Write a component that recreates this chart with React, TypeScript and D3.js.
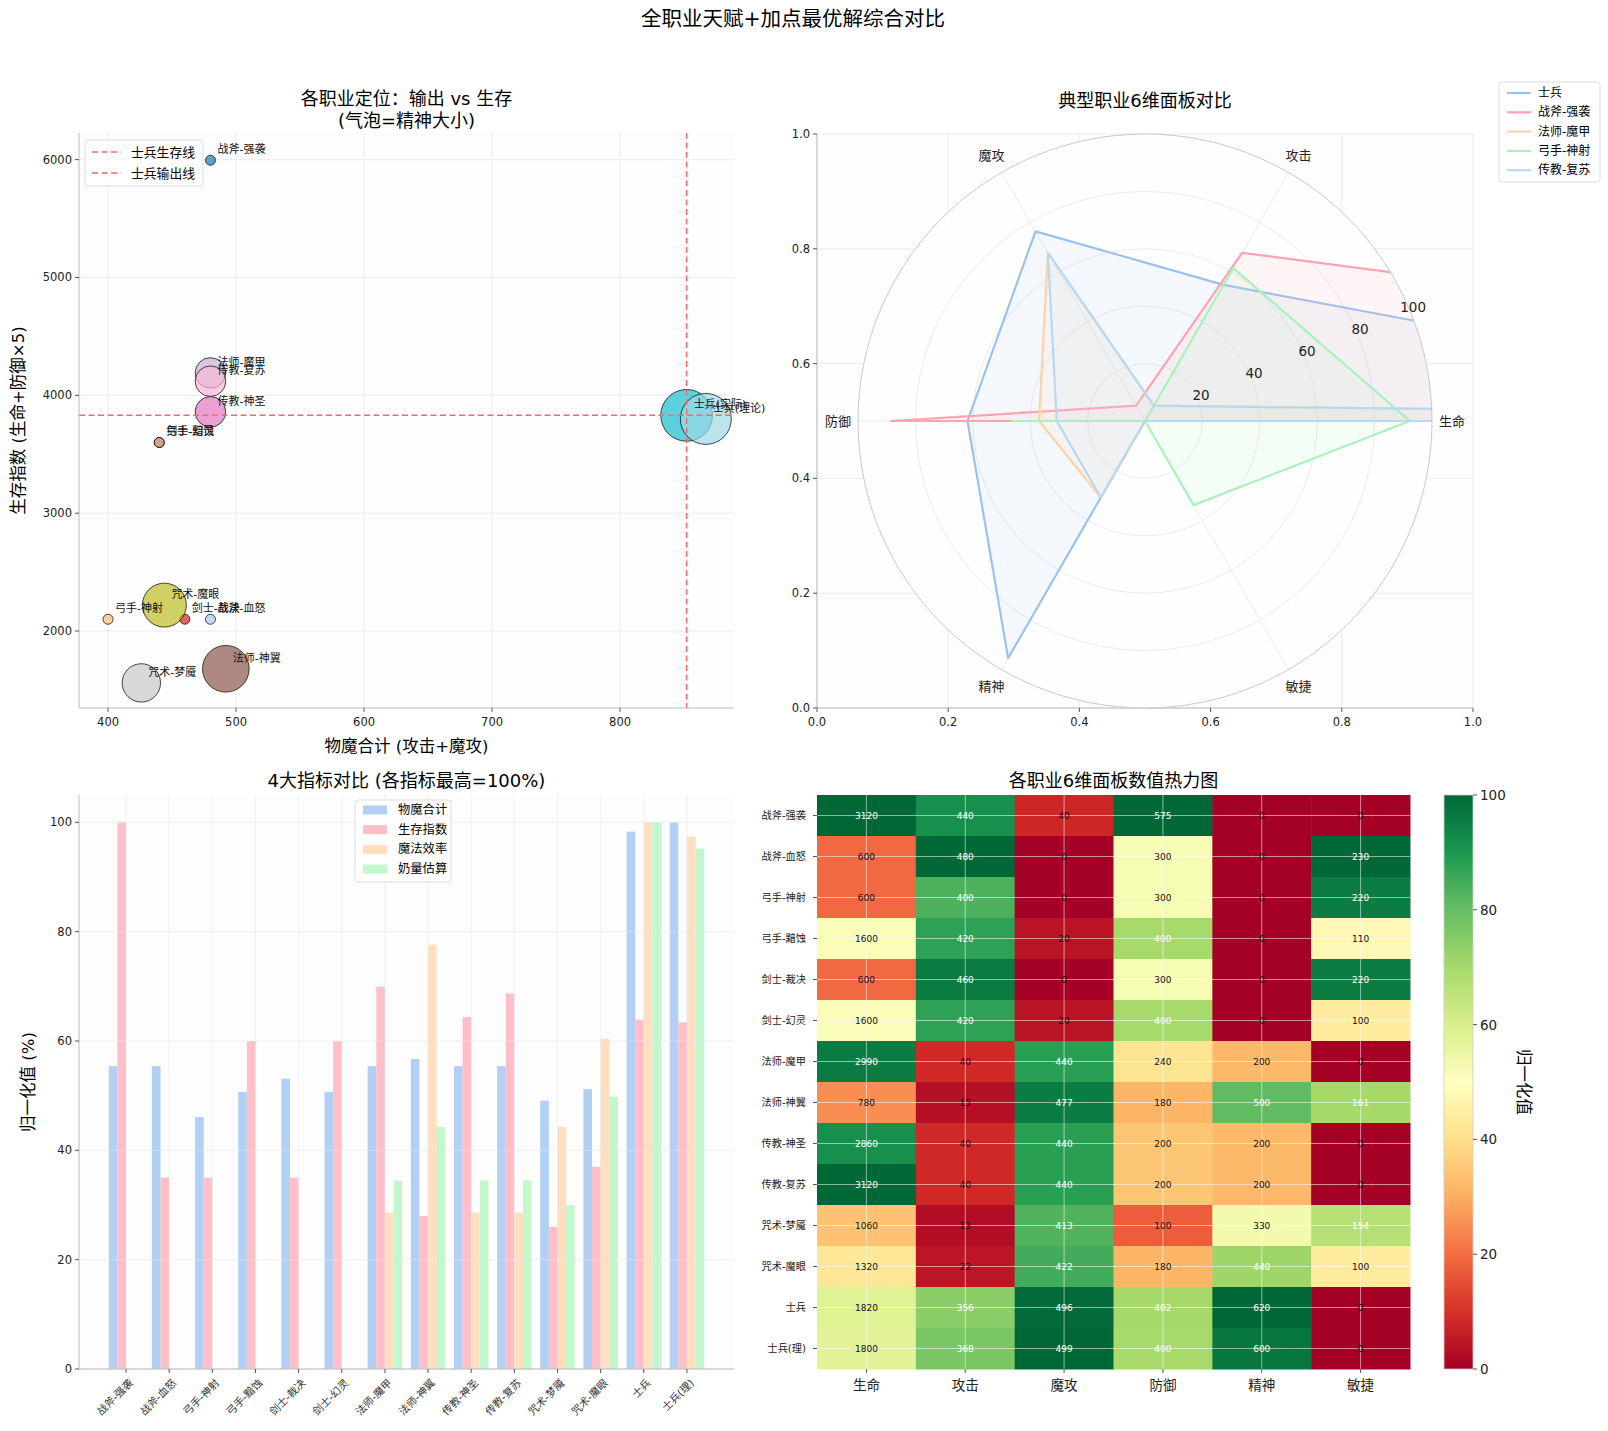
import * as d3 from "d3";

const FONT = "'DejaVu Sans', 'Noto Sans CJK SC', sans-serif";

// ---- data ----
const classes = [
  "战斧-强袭", "战斧-血怒", "弓手-神射", "弓手-黯蚀", "剑士-裁决", "剑士-幻灵", "法师-魔甲",
  "法师-神翼", "传教-神圣", "传教-复苏", "咒术-梦魇", "咒术-魔眼", "士兵", "士兵(理)",
];
const scatterNames = [
  "战斧-强袭", "战斧-血怒", "弓手-神射", "弓手-黯蚀", "剑士-裁决", "剑士-幻灵", "法师-魔甲",
  "法师-神翼", "传教-神圣", "传教-复苏", "咒术-梦魇", "咒术-魔眼", "士兵(实际)", "士兵(理论)",
];
const dims = ["生命", "攻击", "魔攻", "防御", "精神", "敏捷"];

const hp = [3120, 600, 600, 1600, 600, 1600, 2990, 780, 2860, 3120, 1060, 1320, 1820, 1800];
const atk = [440, 480, 400, 420, 460, 420, 40, 15, 40, 40, 13, 22, 356, 368];
const matk = [40, 0, 0, 20, 0, 20, 440, 477, 440, 440, 413, 422, 496, 499];
const def = [575, 300, 300, 400, 300, 400, 240, 180, 200, 200, 100, 180, 402, 400];
const spirit = [0, 0, 0, 0, 0, 0, 200, 500, 200, 200, 330, 440, 620, 600];
const agi = [0, 230, 220, 110, 220, 100, 0, 161, 0, 0, 154, 100, 0, 0];

const barPhysMag = [55.4, 55.4, 46.1, 50.7, 53.1, 50.7, 55.4, 56.7, 55.4, 55.4, 49.1, 51.2, 98.3, 100];
const barSurvive = [100, 35, 35, 60, 35, 60, 69.9, 28, 64.4, 68.7, 26, 37, 63.9, 63.4];
const barMagicEff = [0, 0, 0, 0, 0, 0, 28.6, 77.6, 28.6, 28.6, 44.3, 60.4, 100, 97.4];
const barHeal = [0, 0, 0, 0, 0, 0, 34.5, 44.3, 34.5, 34.5, 30, 49.8, 100, 95.2];
const barSeries = ["物魔合计", "生存指数", "魔法效率", "奶量估算"];

const radarNames = ["士兵", "战斧-强袭", "法师-魔甲", "弓手-神射", "传教-复苏"];
const radarRef = 650; // radar scale: value / 650 * 100

const bubbleColors = [
  "#1f77b4", "#aec7e8", "#ffbb78", "#2ca02c", "#d62728", "#ff9896", "#c5b0d5",
  "#8c564b", "#e377c2", "#f7b6d2", "#c7c7c7", "#bcbd22", "#17becf", "#9edae5",
];
const radarColors = ["#9cc2ee", "#ffa3b1", "#ffd3a6", "#a7f3ba", "#b7d9f3"];
const barColors = ["#b1d0f4", "#ffbfc8", "#ffdfc0", "#c3f7cc"];
const rdylgn = ["#a50026", "#d73027", "#f46d43", "#fdae61", "#fee08b", "#ffffbf", "#d9ef8b", "#a6d96a", "#66bd63", "#1a9850", "#006837"];

const rowOf = (i: number) => [hp[i], atk[i], matk[i], def[i], spirit[i], agi[i]];
const AX = "#bbbbbb";
const TICK = "#555";
const GRID = "#ececec";
const FACE = "#fdfdfd";
const TITLE = 18;
const LABEL = 16.5;

function Scatter() {
  const L = 79, R = 734, T = 133, B = 708;
  const x = d3.scaleLinear().domain([377.3, 889]).range([L, R]);
  const y = d3.scaleLinear().domain([1347, 6226]).range([B, T]);
  const px = classes.map((_, i) => atk[i] + matk[i]);
  const py = classes.map((_, i) => hp[i] + def[i] * 5);
  const r = d3.scaleSqrt().domain([0, 620]).range([0, 25.4]);
  const rad = (v: number) => Math.sqrt(25 + r(v) ** 2);
  const sIdx = classes.indexOf("士兵");
  const hLine = py[sIdx];
  const vLine = px[sIdx];
  const red = "#f46a6a";
  return (
    <g>
      <rect x={L} y={T} width={R - L} height={B - T} fill={FACE} />
      {x.ticks(5).map((t) => (
        <line key={"gx" + t} x1={x(t)} x2={x(t)} y1={T} y2={B} stroke={GRID} />
      ))}
      {y.ticks(5).map((t) => (
        <line key={"gy" + t} x1={L} x2={R} y1={y(t)} y2={y(t)} stroke={GRID} />
      ))}
      {classes.map((c, i) => (
        <circle key={c} cx={x(px[i])} cy={y(py[i])} r={rad(spirit[i])} fill={bubbleColors[i]}
          fillOpacity={0.7} stroke="#000" strokeOpacity={0.7} strokeWidth={1} />
      ))}
      <line x1={L} x2={R} y1={y(hLine)} y2={y(hLine)} stroke={red} strokeWidth={1.5} strokeDasharray="6,3.5" />
      <line x1={x(vLine)} x2={x(vLine)} y1={T} y2={B} stroke={red} strokeWidth={1.5} strokeDasharray="6,3.5" />
      {classes.map((c, i) => (
        <text key={"l" + c} x={x(px[i]) + 7} y={y(py[i]) - 7} fontSize={11} fill="#111">{scatterNames[i]}</text>
      ))}
      <line x1={L} x2={L} y1={T} y2={B} stroke={AX} />
      <line x1={L} x2={R} y1={B} y2={B} stroke={AX} />
      {x.ticks(5).map((t) => (
        <g key={"tx" + t}>
          <line x1={x(t)} x2={x(t)} y1={B} y2={B + 4} stroke={TICK} />
          <text x={x(t)} y={B + 18} fontSize={11.5} textAnchor="middle" fill="#222">{t}</text>
        </g>
      ))}
      {y.ticks(5).map((t) => (
        <g key={"ty" + t}>
          <line x1={L - 4} x2={L} y1={y(t)} y2={y(t)} stroke={TICK} />
          <text x={L - 7} y={y(t)} fontSize={11.5} textAnchor="end" dominantBaseline="central" fill="#222">{t}</text>
        </g>
      ))}
      <text x={(L + R) / 2} y={98} fontSize={TITLE} textAnchor="middle" dominantBaseline="central">各职业定位：输出 vs 生存</text>
      <text x={(L + R) / 2} y={120} fontSize={TITLE} textAnchor="middle" dominantBaseline="central">(气泡=精神大小)</text>
      <text x={(L + R) / 2} y={746} fontSize={LABEL} textAnchor="middle" dominantBaseline="central">物魔合计 (攻击+魔攻)</text>
      <text transform={`translate(18,${(T + B) / 2}) rotate(-90)`} fontSize={LABEL} textAnchor="middle" dominantBaseline="central">生存指数 (生命+防御×5)</text>
      <g>
        <rect x={85} y={140} width={118} height={46} rx={3} fill="#fff" fillOpacity={0.8} stroke="#ddd" />
        {["士兵生存线", "士兵输出线"].map((s, k) => (
          <g key={s}>
            <line x1={92} x2={121} y1={152 + k * 21} y2={152 + k * 21} stroke={red} strokeWidth={1.5} strokeDasharray="6,3.5" />
            <text x={131} y={152 + k * 21} fontSize={12.8} dominantBaseline="central">{s}</text>
          </g>
        ))}
      </g>
    </g>
  );
}

function Radar() {
  const L = 817, R = 1473, T = 134, B = 708;
  const cx = d3.scaleLinear().domain([0, 1]).range([L, R]);
  const cy = d3.scaleLinear().domain([0, 1]).range([B, T]);
  const ctrX = (L + R) / 2, ctrY = (T + B) / 2;
  const rr = d3.scaleLinear().domain([0, 100]).range([0, 287]);
  const angles = dims.map((_, k) => (k * 2 * Math.PI) / dims.length);
  const line = d3
    .lineRadial<number>()
    .angle((_, k) => Math.PI / 2 - angles[k])
    .radius((v) => rr((v / radarRef) * 100))
    .curve(d3.curveLinearClosed);
  const ticks = [0, 0.2, 0.4, 0.6, 0.8, 1.0];
  const lab = (a: number, r: number) => [ctrX + r * Math.cos(a), ctrY - r * Math.sin(a)];
  const rlA = (22.5 * Math.PI) / 180;
  return (
    <g>
      <rect x={L} y={T} width={R - L} height={B - T} fill={FACE} />
      {ticks.map((t) => (
        <g key={"g" + t}>
          <line x1={cx(t)} x2={cx(t)} y1={T} y2={B} stroke={GRID} />
          <line x1={L} x2={R} y1={cy(t)} y2={cy(t)} stroke={GRID} />
        </g>
      ))}
      <line x1={L} x2={L} y1={T} y2={B} stroke={AX} />
      <line x1={L} x2={R} y1={B} y2={B} stroke={AX} />
      {ticks.map((t) => (
        <g key={"t" + t}>
          <line x1={cx(t)} x2={cx(t)} y1={B} y2={B + 4} stroke={TICK} />
          <text x={cx(t)} y={B + 18} fontSize={11.5} textAnchor="middle" fill="#222">{t.toFixed(1)}</text>
          <line x1={L - 4} x2={L} y1={cy(t)} y2={cy(t)} stroke={TICK} />
          <text x={L - 7} y={cy(t)} fontSize={11.5} textAnchor="end" dominantBaseline="central" fill="#222">{t.toFixed(1)}</text>
        </g>
      ))}
      <defs>
        <clipPath id="polarClip">
          <circle cx={ctrX} cy={ctrY} r={rr(100)} />
        </clipPath>
      </defs>
      <circle cx={ctrX} cy={ctrY} r={rr(100)} fill="#fefefe" />
      {[20, 40, 60, 80].map((v) => (
        <circle key={"c" + v} cx={ctrX} cy={ctrY} r={rr(v)} fill="none" stroke="#ebebeb" />
      ))}
      {angles.map((a, k) => {
        const [x2, y2] = lab(a, rr(100));
        return <line key={"a" + k} x1={ctrX} y1={ctrY} x2={x2} y2={y2} stroke="#ebebeb" />;
      })}
      <g clipPath="url(#polarClip)">
        <g transform={`translate(${ctrX},${ctrY})`}>
          {radarNames.map((n, s) => {
            const vals = rowOf(classes.indexOf(n));
            return (
              <g key={n}>
                <path d={line(vals) ?? ""} fill="none" stroke={radarColors[s]} strokeWidth={2.2} strokeLinejoin="round" />
                <path d={line(vals) ?? ""} fill={radarColors[s]} fillOpacity={0.1} stroke="none" />
              </g>
            );
          })}
        </g>
      </g>
      <circle cx={ctrX} cy={ctrY} r={rr(100)} fill="none" stroke="#c9c9c9" strokeWidth={1} />
      {[20, 40, 60, 80, 100].map((v) => {
        const [x, y] = lab(rlA, rr(v));
        return (
          <text key={"rl" + v} x={x + 3} y={y - 4} fontSize={13.5} textAnchor="middle" dominantBaseline="central" fill="#222">{v}</text>
        );
      })}
      {dims.map((d, k) => {
        const [x, y] = lab(angles[k], 307);
        return (
          <text key={"d" + d} x={x} y={y} fontSize={13} textAnchor="middle" dominantBaseline="central" fill="#222">{d}</text>
        );
      })}
      <text x={ctrX} y={100} fontSize={TITLE} textAnchor="middle" dominantBaseline="central">典型职业6维面板对比</text>
      <g>
        <rect x={1499} y={82} width={101} height={100} rx={3} fill="#fff" stroke="#ddd" />
        {radarNames.map((n, s) => (
          <g key={"lg" + n}>
            <line x1={1507} x2={1531} y1={93 + s * 19.3} y2={93 + s * 19.3} stroke={radarColors[s]} strokeWidth={2.2} />
            <text x={1538} y={93 + s * 19.3} fontSize={12} dominantBaseline="central">{n}</text>
          </g>
        ))}
      </g>
    </g>
  );
}

function Bars() {
  const L = 79, R = 734, T = 795, B = 1369;
  const x = d3.scaleLinear().domain([-1.09, 14.09]).range([L, R]);
  const y = d3.scaleLinear().domain([0, 105]).range([B, T]);
  const series = [barPhysMag, barSurvive, barMagicEff, barHeal];
  const w = 0.2;
  return (
    <g>
      <rect x={L} y={T} width={R - L} height={B - T} fill={FACE} />
      {series.map((vals, s) =>
        vals.map((v, i) => (
          <rect key={s + "-" + i} x={x(i + (s - 2) * w)} width={x(w) - x(0)} y={y(v)} height={B - y(v)} fill={barColors[s]} />
        ))
      )}
      {y.ticks(5).map((t) => (
        <line key={"gy" + t} x1={L} x2={R} y1={y(t)} y2={y(t)} stroke="#e6e6e6" strokeOpacity={0.6} />
      ))}
      {classes.map((_, i) => (
        <line key={"gx" + i} x1={x(i)} x2={x(i)} y1={T} y2={B} stroke="#e6e6e6" strokeOpacity={0.5} />
      ))}
      <line x1={L} x2={L} y1={T} y2={B} stroke={AX} />
      <line x1={L} x2={R} y1={B} y2={B} stroke={AX} />
      {y.ticks(5).map((t) => (
        <g key={"ty" + t}>
          <line x1={L - 4} x2={L} y1={y(t)} y2={y(t)} stroke={TICK} />
          <text x={L - 7} y={y(t)} fontSize={11.5} textAnchor="end" dominantBaseline="central" fill="#222">{t}</text>
        </g>
      ))}
      {classes.map((c, i) => (
        <g key={"tx" + c}>
          <line x1={x(i)} x2={x(i)} y1={B} y2={B + 4} stroke={TICK} />
          <text transform={`translate(${x(i) + 2},${B + 9}) rotate(-45)`} fontSize={10.5} textAnchor="end" dominantBaseline="hanging" fill="#333">{c}</text>
        </g>
      ))}
      <text x={(L + R) / 2} y={780} fontSize={TITLE} textAnchor="middle" dominantBaseline="central">4大指标对比 (各指标最高=100%)</text>
      <text transform={`translate(28,${(T + B) / 2}) rotate(-90)`} fontSize={LABEL} textAnchor="middle" dominantBaseline="central">归一化值 (%)</text>
      <g>
        <rect x={355} y={800} width={96} height={82} rx={3} fill="#fff" fillOpacity={0.8} stroke="#ddd" />
        {barSeries.map((n, s) => (
          <g key={n}>
            <rect x={363} y={810 + s * 19.7 - 4.5} width={24} height={9} fill={barColors[s]} />
            <text x={398} y={810 + s * 19.7} fontSize={12.3} dominantBaseline="central">{n}</text>
          </g>
        ))}
      </g>
    </g>
  );
}

function Heatmap() {
  const L = 817, R = 1410, T = 795, B = 1369;
  const x = d3.scaleBand<string>().domain(dims).range([L, R]);
  const y = d3.scaleBand<string>().domain(classes).range([T, B]);
  const color = d3.scaleLinear<string>().domain(d3.range(11).map((k) => k * 10)).range(rdylgn).clamp(true);
  const colMax = dims.map((_, j) => d3.max(classes, (_, i) => rowOf(i)[j]) ?? 1);
  const cbL = 1444, cbR = 1473;
  const cb = d3.scaleLinear().domain([0, 100]).range([B, T]);
  return (
    <g>
      {classes.map((c, i) =>
        rowOf(i).map((v, j) => {
          const n = (v / colMax[j]) * 100;
          return (
            <rect key={c + j} x={x(dims[j])} y={y(c)} width={x.bandwidth() + 0.5} height={y.bandwidth() + 0.5} fill={color(n)} />
          );
        })
      )}
      {dims.map((d) => (
        <line key={"vg" + d} x1={x(d)! + x.bandwidth() / 2} x2={x(d)! + x.bandwidth() / 2} y1={T} y2={B} stroke="#fff" strokeOpacity={0.6} strokeWidth={0.9} />
      ))}
      {classes.map((c) => (
        <line key={"hg" + c} x1={L} x2={R} y1={y(c)! + y.bandwidth() / 2} y2={y(c)! + y.bandwidth() / 2} stroke="#fff" strokeOpacity={0.6} strokeWidth={0.9} />
      ))}
      {classes.map((c, i) =>
        rowOf(i).map((v, j) => {
          const n = (v / colMax[j]) * 100;
          return (
            <text key={"t" + c + j} x={x(dims[j])! + x.bandwidth() / 2} y={y(c)! + y.bandwidth() / 2} fontSize={9}
              textAnchor="middle" dominantBaseline="central" fill={n > 60 ? "#fff" : "#111"}>{v}</text>
          );
        })
      )}
      {classes.map((c) => (
        <g key={"yl" + c}>
          <line x1={L - 4} x2={L} y1={y(c)! + y.bandwidth() / 2} y2={y(c)! + y.bandwidth() / 2} stroke={TICK} />
          <text x={L - 11} y={y(c)! + y.bandwidth() / 2} fontSize={10.2} textAnchor="end" dominantBaseline="central" fill="#222">{c}</text>
        </g>
      ))}
      {dims.map((d) => (
        <g key={"xl" + d}>
          <line x1={x(d)! + x.bandwidth() / 2} x2={x(d)! + x.bandwidth() / 2} y1={B} y2={B + 4} stroke={TICK} />
          <text x={x(d)! + x.bandwidth() / 2} y={B + 16} fontSize={13.5} textAnchor="middle" dominantBaseline="central" fill="#222">{d}</text>
        </g>
      ))}
      <text x={(L + R) / 2} y={780} fontSize={TITLE} textAnchor="middle" dominantBaseline="central">各职业6维面板数值热力图</text>
      <defs>
        <linearGradient id="cbGrad" x1="0" y1="1" x2="0" y2="0">
          {rdylgn.map((c, k) => (
            <stop key={k} offset={`${k * 10}%`} stopColor={c} />
          ))}
        </linearGradient>
      </defs>
      <rect x={cbL} y={T} width={cbR - cbL} height={B - T} fill="url(#cbGrad)" stroke="#ccc" strokeWidth={0.8} />
      {cb.ticks(5).map((t) => (
        <g key={"cb" + t}>
          <line x1={cbR} x2={cbR + 4} y1={cb(t)} y2={cb(t)} stroke={TICK} />
          <text x={cbR + 7} y={cb(t)} fontSize={13.5} dominantBaseline="central" fill="#222">{t}</text>
        </g>
      ))}
      <text transform={`translate(1523,${(T + B) / 2}) rotate(90)`} fontSize={LABEL} textAnchor="middle" dominantBaseline="central">归一化值</text>
    </g>
  );
}

export default function App() {
  return (
    <div style={{ position: "absolute", left: 0, top: 0, background: "#fff" }}>
      <svg width={1608} height={1431} style={{ display: "block", fontFamily: FONT }}>
        <rect width={1608} height={1431} fill="#fff" />
        <text x={793} y={19} fontSize={20.5} textAnchor="middle" dominantBaseline="central">全职业天赋+加点最优解综合对比</text>
        <Scatter />
        <Radar />
        <Bars />
        <Heatmap />
      </svg>
    </div>
  );
}
